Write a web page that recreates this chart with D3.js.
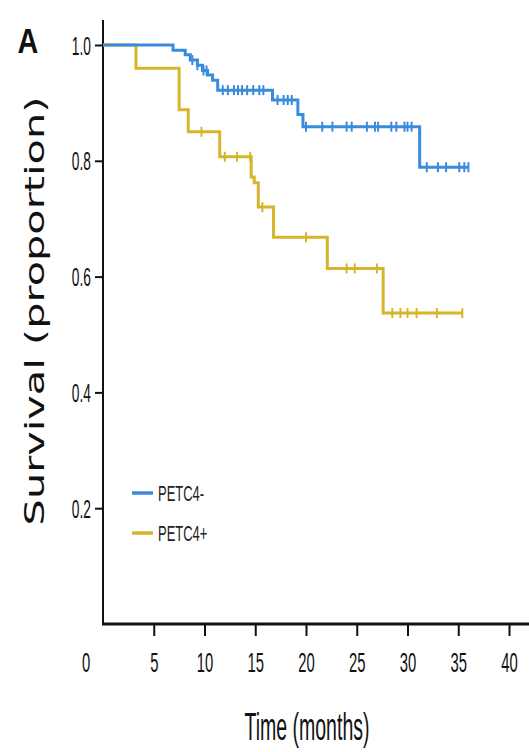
<!DOCTYPE html>
<html>
<head>
<meta charset="utf-8">
<script src="https://cdn.jsdelivr.net/npm/d3@7"></script>
<style>
  html, body { margin: 0; padding: 0; background: #fff; }
  svg { display: block; }
</style>
</head>
<body>
<svg id="chart" width="529" height="752"></svg>
<script>
// Kaplan–Meier survival by PETC4 status

const groups = ["PETC4-", "PETC4+"];
const groupColors = ["#3a8bdc", "#d6b42c"];

// PETC4- : step times (months) and survival after each step
const negTimes = [0, 6.9, 8.1, 8.6, 9.3, 9.8, 10.3, 10.8, 11.3, 16.7, 19.2, 19.7, 31.2];
const negSurv  = [1.0, 0.991, 0.983, 0.974, 0.965, 0.956, 0.948, 0.939, 0.922, 0.905, 0.880, 0.859, 0.789];
const negEnd = 36.0;
const negCensor = [8.8, 9.3, 9.9, 10.2, 11.8, 12.3, 12.9, 13.3, 13.7, 14.2, 14.8, 15.4, 15.8,
                   17.2, 17.8, 18.2, 18.6, 20.0, 21.6, 22.6, 24.0, 24.5, 26.0, 26.8, 27.1,
                   28.4, 28.9, 29.7, 30.0, 30.4, 31.9, 33.0, 33.8, 35.1, 35.6, 36.0];

// PETC4+ : step times (months) and survival after each step
const posTimes = [0, 3.25, 7.5, 8.4, 11.5, 14.6, 14.9, 15.3, 16.8, 22.1, 27.6];
const posSurv  = [1.0, 0.960, 0.888, 0.850, 0.807, 0.772, 0.762, 0.720, 0.668, 0.614, 0.537];
const posEnd = 35.4;
const posCensor = [9.7, 12.0, 13.2, 14.5, 15.7, 20.0, 24.0, 24.8, 27.0, 28.5, 29.3, 30.0, 30.9, 32.9, 35.4];

const timeTicks = [5, 10, 15, 20, 25, 30, 35, 40];
const originLabel = "0";
const survTicks = [0.2, 0.4, 0.6, 0.8, 1.0];

const panelLabel = "A";
const xTitle = "Time (months)";
const yTitle = "Survival (proportion)";

const narrow = "'Liberation Sans Narrow', 'Arial Narrow', 'Liberation Sans', sans-serif";
const squeeze = 0.62;   // horizontal compression of the figure's lettering
const tickSqueeze = 0.53;

const svg = d3.select("#chart");

const x = d3.scaleLinear().domain([0, 40]).range([103, 509]);
const y = d3.scaleLinear().domain([0, 1]).range([624, 45]);

// survival value at time t for a step series
function survAt(times, surv, t) {
  let s = surv[0];
  for (let i = 0; i < times.length; i++) if (times[i] <= t) s = surv[i];
  return s;
}

// ---- axes ----
const xAxis = svg.append("g")
  .attr("transform", `translate(0,${y(0)})`)
  .call(d3.axisBottom(x).tickValues(timeTicks).tickSize(12).tickFormat(d3.format("d")));
xAxis.select(".domain").remove();
xAxis.selectAll(".tick line").attr("stroke", "#111").attr("stroke-width", 2);
xAxis.selectAll(".tick text")
  .attr("y", 0).attr("dy", null)
  .attr("transform", `translate(0,48) scale(${tickSqueeze},1)`)
  .attr("font-family", narrow).attr("font-size", 28).attr("fill", "#111");

svg.append("text")
  .attr("transform", `translate(86,${y(0) + 48}) scale(${tickSqueeze},1)`)
  .attr("text-anchor", "middle")
  .attr("font-family", narrow).attr("font-size", 28).attr("fill", "#111")
  .text(originLabel);

const yAxis = svg.append("g")
  .attr("transform", `translate(${x(0)},0)`)
  .call(d3.axisLeft(y).tickValues(survTicks).tickSize(8).tickFormat(d3.format(".1f")));
yAxis.select(".domain").remove();
yAxis.selectAll(".tick line").attr("stroke", "#111").attr("stroke-width", 2);
yAxis.selectAll(".tick text")
  .attr("x", 0).attr("dy", null)
  .attr("transform", `translate(-12,9) scale(${tickSqueeze},1)`)
  .attr("font-family", narrow).attr("font-size", 26).attr("fill", "#111");

// axis lines
svg.append("line")
  .attr("x1", x(0)).attr("x2", x(0)).attr("y1", 20).attr("y2", y(0) + 1)
  .attr("stroke", "#111").attr("stroke-width", 2);
svg.append("line")
  .attr("x1", x(0) - 1).attr("x2", 529).attr("y1", y(0)).attr("y2", y(0))
  .attr("stroke", "#111").attr("stroke-width", 3);

// ---- curves ----
const line = d3.line().x(d => x(d[0])).y(d => y(d[1])).curve(d3.curveStepAfter);

function drawSeries(times, surv, end, censor, color) {
  const pts = times.map((t, i) => [t, surv[i]]);
  pts.push([end, surv[surv.length - 1]]);
  svg.append("path").datum(pts)
    .attr("d", line)
    .attr("fill", "none").attr("stroke", color).attr("stroke-width", 3);
  svg.append("g").selectAll("line").data(censor).join("line")
    .attr("x1", d => x(d)).attr("x2", d => x(d))
    .attr("y1", d => y(survAt(times, surv, d)) - 5)
    .attr("y2", d => y(survAt(times, surv, d)) + 5)
    .attr("stroke", color).attr("stroke-width", 2);
}

drawSeries(posTimes, posSurv, posEnd, posCensor, groupColors[1]);
drawSeries(negTimes, negSurv, negEnd, negCensor, groupColors[0]);

// ---- legend ----
const legend = svg.append("g").selectAll("g").data(groups).join("g")
  .attr("transform", (d, i) => `translate(132,${493 + i * 40})`);
legend.append("line")
  .attr("x1", 0).attr("x2", 21).attr("y1", 0).attr("y2", 0)
  .attr("stroke", (d, i) => groupColors[i]).attr("stroke-width", 3.5);
legend.append("text")
  .attr("transform", `translate(26,8) scale(0.59,1)`)
  .attr("font-family", narrow).attr("font-size", 22).attr("fill", "#222")
  .text(d => d);

// ---- titles ----
svg.append("text")
  .attr("transform", `translate(307,740) scale(0.5,1)`)
  .attr("text-anchor", "middle")
  .attr("font-family", narrow).attr("font-size", 39).attr("fill", "#111")
  .text(xTitle);

svg.append("text")
  .attr("transform", `translate(44,311) rotate(-90) scale(1,${squeeze})`)
  .attr("text-anchor", "middle")
  .attr("font-family", "'DejaVu Sans', Verdana, sans-serif").attr("font-size", 41.5).attr("fill", "#111")
  .text(yTitle);

svg.append("text")
  .attr("transform", `translate(28,53) scale(0.8,1)`)
  .attr("text-anchor", "middle")
  .attr("font-family", narrow).attr("font-weight", "bold").attr("font-size", 36).attr("fill", "#111")
  .text(panelLabel);
</script>
</body>
</html>
